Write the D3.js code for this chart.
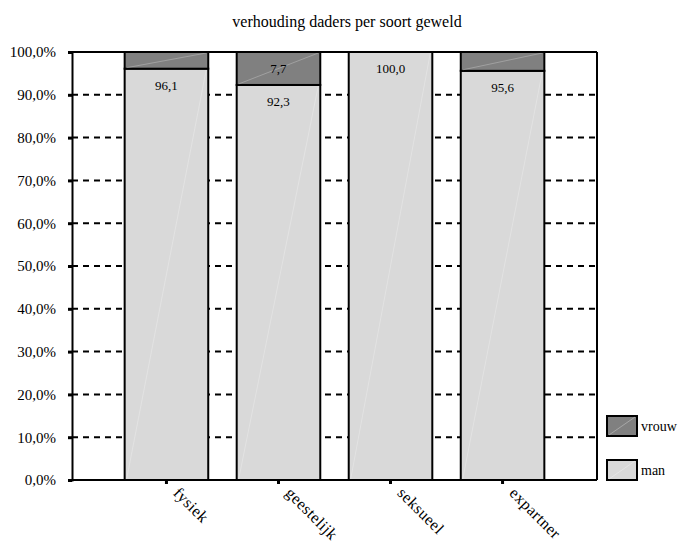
<!DOCTYPE html>
<html><head><meta charset="utf-8">
<script src="https://cdn.jsdelivr.net/npm/d3@7"></script>
<style>body{margin:0;background:#fff}svg text{font-family:"Times New Roman","Liberation Serif","DejaVu Serif",serif !important;fill:#000}</style>
</head><body>
<script>
const categories = ["fysiek", "geestelijk", "seksueel", "expartner"];
const seriesNames = ["man", "vrouw"];
const manValues = [96.1, 92.3, 100.0, 95.6];
const vrouwValues = [3.9, 7.7, 0.0, 4.4];
const yTicks = [0, 10, 20, 30, 40, 50, 60, 70, 80, 90, 100];
const colors = {man: "#d9d9d9", vrouw: "#808080"};

const W = 681, H = 543;
const L = 72, R = 597, T = 52, B = 480;
const svg = d3.select("body").append("svg").attr("width", W).attr("height", H);

const x = d3.scaleBand().domain(categories).range([L, R]).paddingInner(0.254).paddingOuter(0.47);
const y = d3.scaleLinear().domain([0, 100]).range([B, T]);

svg.append("text").attr("x", 347).attr("y", 27).attr("text-anchor", "middle")
  .style("font-size", "16px").text("verhouding daders per soort geweld");

// gridlines
svg.append("g").selectAll("line").data(yTicks.filter(d => d > 0 && d < 100)).join("line")
  .attr("x1", L).attr("x2", R).attr("y1", d => y(d)).attr("y2", d => y(d))
  .attr("stroke", "#000").attr("stroke-width", 2).attr("stroke-dasharray", "6,5");

// stacked data
const rows = categories.map((c, i) => ({cat: c, man: manValues[i], vrouw: vrouwValues[i]}));
const stack = d3.stack().keys(seriesNames)(rows);

const g = svg.append("g");
stack.forEach(layer => {
  layer.forEach(d => {
    const h = y(d[0]) - y(d[1]);
    if (h <= 0) return;
    const x0 = x(d.data.cat), bw = x.bandwidth();
    g.append("rect").attr("x", x0).attr("y", y(d[1])).attr("width", bw).attr("height", h)
      .attr("fill", colors[layer.key]).attr("stroke", "#000").attr("stroke-width", 2);
    g.append("line").attr("x1", x0 + 2).attr("y1", y(d[0]) - 1).attr("x2", x0 + bw - 2).attr("y2", y(d[1]) + 1)
      .attr("stroke", "#fff").attr("stroke-opacity", 0.25).attr("stroke-width", 1);
    if (h > 25) {
      g.append("text").attr("x", x0 + bw / 2).attr("y", y(d[1]) + 21).attr("text-anchor", "middle")
        .style("font-size", "13px").text(d3.format(".1f")(d[1] - d[0]).replace(".", ","));
    }
  });
});

// frame
svg.append("line").attr("x1", L).attr("x2", R).attr("y1", T).attr("y2", T).attr("stroke", "#000").attr("stroke-width", 2);
svg.append("line").attr("x1", R).attr("x2", R).attr("y1", T).attr("y2", B).attr("stroke", "#000").attr("stroke-width", 2);

// y axis
const yAxis = svg.append("g").attr("transform", `translate(${L},0)`)
  .call(d3.axisLeft(y).tickValues(yTicks).tickSize(4).tickPadding(12).tickFormat(d => d3.format(".1f")(d).replace(".", ",") + "%"));
yAxis.attr("font-family", null);
yAxis.select(".domain").attr("stroke-width", 2);
yAxis.selectAll(".tick line").attr("stroke-width", 3);
yAxis.selectAll("text").style("font-size", "15px");

// x axis
const xAxis = svg.append("g").attr("transform", `translate(0,${B})`)
  .call(d3.axisBottom(x).tickSize(4).tickSizeOuter(0));
xAxis.attr("font-family", null);
xAxis.select(".domain").attr("stroke-width", 2).attr("d", `M${L},0H${R}`);
xAxis.selectAll(".tick line").attr("stroke-width", 3);
xAxis.selectAll("text").style("font-size", "16px").style("letter-spacing", "0.5px")
  .attr("text-anchor", "start").attr("dy", 0).attr("y", 0)
  .attr("transform", "translate(6,14) rotate(45)");

// legend
const legendItems = [{k: "vrouw", y: 416}, {k: "man", y: 460}];
const lg = svg.append("g");
legendItems.forEach(it => {
  lg.append("rect").attr("x", 607).attr("y", it.y).attr("width", 30).attr("height", 20)
    .attr("fill", colors[it.k]).attr("stroke", "#000").attr("stroke-width", 2);
  lg.append("line").attr("x1", 609).attr("y1", it.y + 19).attr("x2", 635).attr("y2", it.y + 1)
    .attr("stroke", "#fff").attr("stroke-opacity", 0.3);
  lg.append("text").attr("x", 641).attr("y", it.y + 15).style("font-size", "14px").text(it.k);
});
</script>
</body></html>
